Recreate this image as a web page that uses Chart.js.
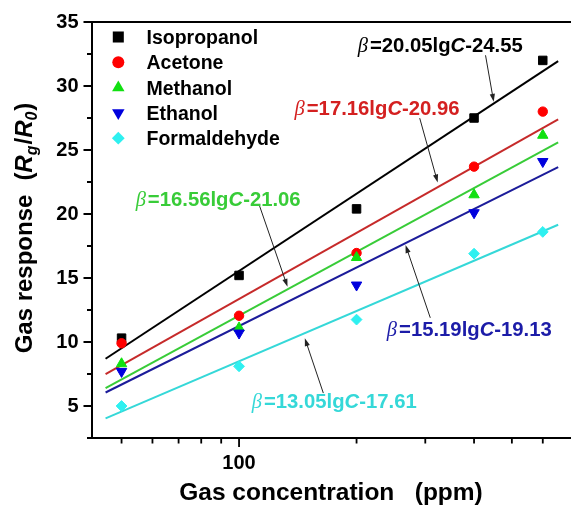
<!DOCTYPE html>
<html>
<head>
<meta charset="utf-8">
<script src="https://cdn.jsdelivr.net/npm/chart.js@4.4.1/dist/chart.umd.min.js"></script>
<style>
  html, body { margin: 0; padding: 0; background: #fff; overflow: hidden; }
  canvas { display: block; }
</style>
</head>
<body>
<canvas id="c" width="571" height="506"></canvas>
<script>
// ---- data ----
const concentrations = [50, 100, 200, 400, 600];           // ppm
const gases = ['Isopropanol', 'Acetone', 'Methanol', 'Ethanol', 'Formaldehyde'];
const isopropanol  = [10.3, 15.2, 20.4, 27.5, 32.0];
const acetone      = [9.9, 12.05, 16.95, 23.7, 28.0];
const methanol     = [8.3, 11.1, 16.6, 21.5, 26.15];
const ethanol      = [7.7, 10.7, 14.45, 20.1, 24.1];
const formaldehyde = [5.0, 8.1, 11.75, 16.9, 18.6];
const fitSlopes     = [20.05, 17.16, 16.56, 15.19, 13.05];
const fitIntercepts = [-24.55, -20.96, -21.06, -19.13, -17.61];
const fitRange = [45.5, 657];                              // ppm span of fitted lines
const yTickLabels = [5, 10, 15, 20, 25, 30, 35];
const yMinorTicks = [2.5, 7.5, 12.5, 17.5, 22.5, 27.5, 32.5];
const xTickLabels = [100];
const xMinorTicks = [50, 60, 70, 80, 90, 200, 300, 400, 500, 600];

const responses = [isopropanol, acetone, methanol, ethanol, formaldehyde];

// ---- styling ----
const markerColors = ['#000000', '#ff0000', '#11e011', '#0000dd', '#2ef0f0'];
const lineColors   = ['#000000', '#c62a2a', '#38cc38', '#1c1c9a', '#35d8d8'];
const textColors   = ['#000000', '#d42020', '#38cc38', '#1c1ca8', '#35d8d8'];
const pointStyles  = ['rect', 'circle', 'triangle', 'triangle', 'rectRot'];
const pointRotations = [0, 0, 0, 180, 0];
const pointRadii   = [6, 4.7, 6, 6, 5.4];
const legendRadii  = [7.8, 6, 7.2, 7.2, 6.4];

const SANS = '"Liberation Sans", Arial, sans-serif';
const SERIF = '"Liberation Serif", "Times New Roman", serif';

// equation labels: text centre and arrow given in data units (ppm, response)
const equationLabels = [
  { series: 0, at: [327.6, 33.18], tail: [428, 32.40], head: [449.2, 28.76] },
  { series: 1, at: [225.7, 28.27], tail: [290.3, 27.49], head: [322.8, 22.46] },
  { series: 2, at: [88.4, 21.17],  tail: [112.9, 20.62], head: [133.1, 14.31] },
  { series: 3, at: [389, 11.01],   tail: [309, 11.89],   head: [267, 17.58] },
  { series: 4, at: [175.3, 5.36],  tail: [164.4, 6.01],  head: [147.4, 10.30] }
];

const fitValue = (i, c) => fitSlopes[i] * Math.log10(c) + fitIntercepts[i];

// ---- datasets ----
const datasets = [];
gases.forEach((name, i) => {
  datasets.push({
    label: name,
    data: concentrations.map((c, k) => ({ x: c, y: responses[i][k] })),
    pointStyle: pointStyles[i],
    rotation: pointRotations[i],
    pointRadius: pointRadii[i],
    pointBackgroundColor: markerColors[i],
    pointBorderColor: markerColors[i],
    pointBorderWidth: 1,
    showLine: false,
    order: 5 - i
  });
});
gases.forEach((name, i) => {
  datasets.push({
    label: name + ' fit',
    data: fitRange.map(c => ({ x: c, y: fitValue(i, c) })),
    showLine: true,
    borderColor: lineColors[i],
    borderWidth: 2,
    pointRadius: 0,
    order: 20 - i
  });
});

// ---- text helpers ----
function segWidth(ctx, segs) {
  let w = 0;
  for (const s of segs) { ctx.font = s.font; w += ctx.measureText(s.t).width + (s.gap || 0); }
  return w;
}
function drawSegs(ctx, segs, x, y, align) {
  const w = segWidth(ctx, segs);
  let cx = align === 'center' ? x - w / 2 : (align === 'right' ? x - w : x);
  ctx.textAlign = 'left';
  ctx.textBaseline = 'alphabetic';
  for (const s of segs) {
    ctx.font = s.font;
    ctx.fillText(s.t, cx, y + (s.dy || 0));
    cx += ctx.measureText(s.t).width + (s.gap || 0);
  }
}
function equationSegs(i) {
  const b = fitIntercepts[i];
  return [
    { t: '\u03B2', font: 'italic 20.5px ' + SERIF, gap: 2 },
    { t: '=' + fitSlopes[i].toFixed(2) + 'lg', font: 'bold 20.3px ' + SANS },
    { t: 'C', font: 'italic bold 20.3px ' + SANS },
    { t: (b < 0 ? '-' : '+') + Math.abs(b).toFixed(2), font: 'bold 20.3px ' + SANS }
  ];
}
function markerPath(ctx, style, rot, r, x, y) {
  ctx.beginPath();
  if (style === 'rect') {
    const s = r * Math.SQRT1_2;
    ctx.rect(x - s, y - s, 2 * s, 2 * s);
  } else if (style === 'circle') {
    ctx.arc(x, y, r, 0, Math.PI * 2);
  } else if (style === 'triangle') {
    let a = rot * Math.PI / 180;
    ctx.moveTo(x + Math.sin(a) * r, y - Math.cos(a) * r);
    a += 2 * Math.PI / 3;
    ctx.lineTo(x + Math.sin(a) * r, y - Math.cos(a) * r);
    a += 2 * Math.PI / 3;
    ctx.lineTo(x + Math.sin(a) * r, y - Math.cos(a) * r);
    ctx.closePath();
  } else {
    ctx.moveTo(x - r, y); ctx.lineTo(x, y - r); ctx.lineTo(x + r, y); ctx.lineTo(x, y + r);
    ctx.closePath();
  }
}
function arrow(ctx, x1, y1, x2, y2) {
  const ang = Math.atan2(y2 - y1, x2 - x1);
  const L = 8, W = 2.6;
  ctx.beginPath();
  ctx.moveTo(x1, y1);
  ctx.lineTo(x2 - Math.cos(ang) * L * 0.6, y2 - Math.sin(ang) * L * 0.6);
  ctx.stroke();
  ctx.beginPath();
  ctx.moveTo(x2, y2);
  ctx.lineTo(x2 - Math.cos(ang) * L + Math.sin(ang) * W, y2 - Math.sin(ang) * L - Math.cos(ang) * W);
  ctx.lineTo(x2 - Math.cos(ang) * L - Math.sin(ang) * W, y2 - Math.sin(ang) * L + Math.cos(ang) * W);
  ctx.closePath();
  ctx.fill();
}

// ---- frame, ticks, titles, legend and equations ----
const decorations = {
  id: 'decorations',
  afterDraw(chart) {
    const { ctx, chartArea: a, scales: { x, y } } = chart;
    ctx.save();
    ctx.strokeStyle = '#000';
    ctx.fillStyle = '#000';

    // axis frame (left, bottom, top)
    ctx.lineWidth = 2;
    ctx.beginPath();
    ctx.moveTo(chart.width, a.top); ctx.lineTo(a.left, a.top);
    ctx.lineTo(a.left, a.bottom); ctx.lineTo(chart.width, a.bottom);
    ctx.stroke();

    // tick marks, pointing outward
    ctx.lineWidth = 1.8;
    ctx.beginPath();
    yTickLabels.forEach(v => { const p = y.getPixelForValue(v); ctx.moveTo(a.left, p); ctx.lineTo(a.left - 8.5, p); });
    yMinorTicks.forEach(v => { const p = y.getPixelForValue(v); ctx.moveTo(a.left, p); ctx.lineTo(a.left - 5, p); });
    xTickLabels.forEach(v => { const p = x.getPixelForValue(v); ctx.moveTo(p, a.bottom); ctx.lineTo(p, a.bottom + 9); });
    xMinorTicks.forEach(v => { const p = x.getPixelForValue(v); ctx.moveTo(p, a.bottom); ctx.lineTo(p, a.bottom + 5.5); });
    ctx.stroke();

    // x axis title
    drawSegs(ctx, [{ t: 'Gas concentration   (ppm)', font: 'bold 24.5px ' + SANS }],
             (a.left + a.right) / 2 + 3, 500, 'center');

    // y axis title, rotated
    ctx.save();
    ctx.translate(32, (a.top + a.bottom) / 2 - 2);
    ctx.rotate(-Math.PI / 2);
    const B = 'bold 24px ' + SANS, BI = 'italic bold 24px ' + SANS, SUB = 'italic bold 16px ' + SANS;
    drawSegs(ctx, [
      { t: 'Gas response', font: B, gap: 14 },
      { t: '(', font: B },
      { t: 'R', font: BI },
      { t: 'g', font: SUB, dy: 5, gap: 1 },
      { t: '/', font: B },
      { t: 'R', font: BI },
      { t: '0', font: SUB, dy: 5, gap: 1 },
      { t: ')', font: B }
    ], 0, 0, 'center');
    ctx.restore();

    // legend
    gases.forEach((name, i) => {
      const ly = 37 + 25.3 * i;
      ctx.fillStyle = markerColors[i];
      markerPath(ctx, pointStyles[i], pointRotations[i], legendRadii[i], 118.3, ly);
      ctx.fill();
      ctx.fillStyle = '#000';
      drawSegs(ctx, [{ t: name, font: 'bold 19.5px ' + SANS }], 146.5, ly + 7, 'left');
    });

    // fit equations with pointer arrows
    ctx.lineWidth = 1;
    equationLabels.forEach(e => {
      ctx.fillStyle = textColors[e.series];
      drawSegs(ctx, equationSegs(e.series), x.getPixelForValue(e.at[0]), y.getPixelForValue(e.at[1]) + 7, 'center');
      ctx.strokeStyle = '#222';
      ctx.fillStyle = '#222';
      arrow(ctx, x.getPixelForValue(e.tail[0]), y.getPixelForValue(e.tail[1]),
                 x.getPixelForValue(e.head[0]), y.getPixelForValue(e.head[1]));
    });
    ctx.restore();
  }
};

new Chart(document.getElementById('c'), {
  type: 'scatter',
  data: { datasets },
  options: {
    responsive: false,
    devicePixelRatio: 1,
    animation: false,
    events: [],
    layout: { padding: { top: 22, left: 0, right: 0, bottom: 0 } },
    plugins: { legend: { display: false }, tooltip: { enabled: false } },
    scales: {
      x: {
        type: 'logarithmic',
        min: 42,
        max: 680,
        grid: { display: false, drawTicks: true, tickLength: 9 },
        border: { display: false },
        ticks: {
          autoSkip: false,
          maxRotation: 0,
          minRotation: 0,
          padding: 4,
          color: '#000',
          font: { family: SANS, weight: 'bold', size: 20 },
          callback: v => xTickLabels.includes(v) ? String(v) : ''
        },
        afterFit: s => { s.height = 68; }
      },
      y: {
        type: 'linear',
        min: 2.5,
        max: 35,
        grid: { display: false, drawTicks: true, tickLength: 8.5 },
        border: { display: false },
        ticks: {
          stepSize: 2.5,
          autoSkip: false,
          padding: 5,
          color: '#000',
          font: { family: SANS, weight: 'bold', size: 20 },
          callback: v => yTickLabels.includes(v) ? String(v) : ''
        },
        afterFit: s => { s.width = 92; }
      }
    }
  },
  plugins: [decorations]
});
</script>
</body>
</html>
